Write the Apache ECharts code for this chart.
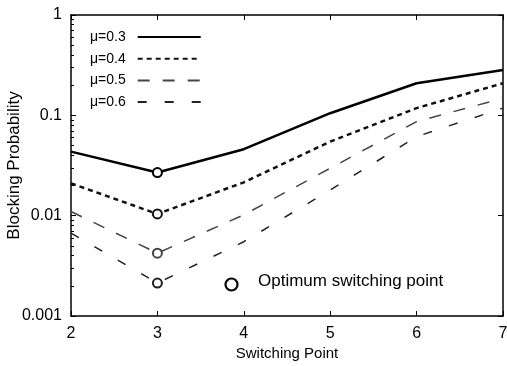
<!DOCTYPE html>
<html><head><meta charset="utf-8">
<script src="https://cdn.jsdelivr.net/npm/echarts@6/dist/echarts.min.js"></script>
<style>html,body{margin:0;padding:0;background:#fff}#c{width:507px;height:366px}</style>
</head><body><div id="c"></div>
<script>
const switchingPoints = [2, 3, 4, 5, 6, 7];
const seriesNames = ['μ=0.3', 'μ=0.4', 'μ=0.5', 'μ=0.6'];
const mu03 = [0.0435, 0.0269, 0.046, 0.105, 0.209, 0.283];
const mu04 = [0.021, 0.0104, 0.0215, 0.0547, 0.118, 0.209];
const mu05 = [0.011, 0.00423, 0.0102, 0.0297, 0.0866, 0.148];
const mu06 = [0.0067, 0.00213, 0.0055, 0.018, 0.0614, 0.118];
const optimumIndex = 1;
const yTickLabels = {'1': '1', '0.1': '0.1', '0.01': '0.01', '0.001': '0.001'};

const values = [mu03, mu04, mu05, mu06];
const styles = [
  {color:'#000', width:2.5, type:'solid'},
  {color:'#111', width:2.5, type:[5,4]},
  {color:'#444', width:1.5, type:[12,13]},
  {color:'#222', width:1.5, type:[9,18]}
];
const font = 'Liberation Sans, Arial, sans-serif';
const chart = echarts.init(document.getElementById('c'));
const axisCommon = {
  axisLine:{show:true, lineStyle:{color:'#000', width:1.5}},
  axisTick:{show:true, inside:true, length:5, lineStyle:{color:'#000'}},
  splitLine:{show:false}
};
chart.setOption({
  animation:false,
  grid:{left:71, right:4, top:15, bottom:50, containLabel:false, outerBoundsMode:'none'},
  legend:{
    left:85, top:25, orient:'vertical', align:'right', itemGap:7.7,
    itemWidth:63, itemHeight:14,
    textStyle:{fontFamily:font, fontSize:14, color:'#000', padding:[0,7,0,0]},
    itemStyle:{opacity:0},
    data:seriesNames
  },
  xAxis:[
    Object.assign({type:'value', min:2, max:7, interval:1, name:'Switching Point',
      nameLocation:'middle', nameGap:30, nameMoveOverlap:false,
      nameTextStyle:{fontFamily:font, fontSize:15, color:'#000'},
      axisLabel:{fontFamily:font, fontSize:16, color:'#000', margin:10}}, axisCommon),
    Object.assign({type:'value', min:2, max:7, interval:1, position:'top',
      axisLabel:{show:false}}, axisCommon)
  ],
  yAxis:[
    Object.assign({type:'log', logBase:10, min:0.001, max:1, name:'Blocking Probability',
      nameLocation:'middle', nameGap:48, nameMoveOverlap:false,
      nameTextStyle:{fontFamily:font, fontSize:17, color:'#000'},
      minorTick:{show:true, splitNumber:9, length:3, lineStyle:{color:'#000'}},
      axisLabel:{fontFamily:font, fontSize:16, color:'#000', margin:9,
        formatter: v => yTickLabels[String(+v.toPrecision(3))] || ''}}, axisCommon),
    Object.assign({type:'log', logBase:10, min:0.001, max:1, position:'right',
      axisLabel:{show:false}}, axisCommon)
  ],
  graphic:[
    {type:'circle', left:223, top:276, shape:{r:6}, style:{fill:'none', stroke:'#000', lineWidth:2.2}},
    {type:'text', left:258, top:273, style:{text:'Optimum switching point', font:'17px Liberation Sans, Arial, sans-serif', fill:'#000'}}
  ],
  series: values.map((vals, i) => ({
    name: seriesNames[i], type:'line',
    data: vals.map((v, j) => ({
      value:[switchingPoints[j], v],
      symbol: j === optimumIndex ? 'emptyCircle' : 'none',
      symbolSize: 9
    })),
    showAllSymbol:true,
    lineStyle: styles[i],
    itemStyle:{color: styles[i].color, borderWidth:1.5},
    z: 5 - i
  }))
});
</script></body></html>
